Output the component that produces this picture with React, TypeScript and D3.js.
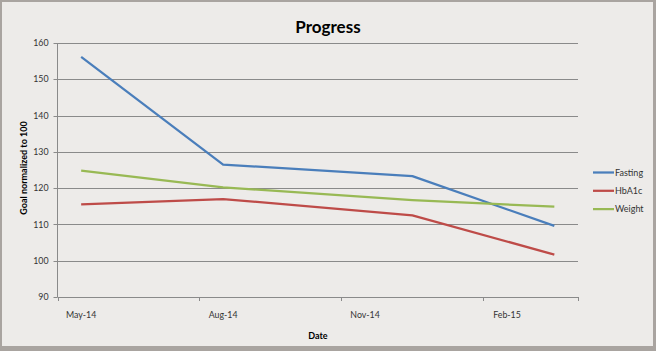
import React from "react";
import * as d3 from "d3";

const months = ["May-14","Jun-14","Jul-14","Aug-14","Sep-14","Oct-14","Nov-14","Dec-14","Jan-15","Feb-15","Mar-15"];
const tickLabels = ["May-14","Aug-14","Nov-14","Feb-15"];
const pointMonths = ["May-14","Aug-14","Dec-14","Mar-15"];
const fasting = [156.2, 126.5, 123.3, 109.6];
const hba1c = [115.5, 117.0, 112.5, 101.7];
const weight = [124.8, 120.2, 116.7, 114.9];
const yTicks = [90, 100, 110, 120, 130, 140, 150, 160];
const seriesNames = ["Fasting", "HbA1c", "Weight"];
const seriesColors = ["#4A7EBB", "#BE4B48", "#98B954"];

const FONT = "Lato, 'Open Sans', sans-serif";

export default function App() {
  const W = 656, H = 351;
  const left = 57.5, right = 578, top = 43, bottom = 297;
  const x = d3.scaleBand().domain(months).range([left, right]).paddingInner(0).paddingOuter(0);
  const y = d3.scaleLinear().domain([90, 160]).range([bottom, top]);
  const series = [fasting, hba1c, weight];
  const line = d3.line<number>()
    .x((_, i) => (x(pointMonths[i]) as number) + x.bandwidth() / 2)
    .y((v) => y(v));
  const quarterEdges = [0, 3, 6, 9].map((i) => left + i * x.bandwidth());
  quarterEdges.push(right);

  return (
    <svg width={W} height={H} style={{ position: "absolute", left: 0, top: 0 }} xmlns="http://www.w3.org/2000/svg">
      <rect x={0} y={0} width={W} height={H} fill="#A9A4A0" />
      <rect x={2} y={2} width={651} height={344} fill="#EDEBE9" />
      <text x={328} y={33} textAnchor="middle" fontFamily={FONT} fontWeight="bold" fontSize={17} fill="#000">Progress</text>
      {yTicks.map((t) => (
        <g key={t}>
          {t !== 90 && <line x1={left} x2={right} y1={Math.round(y(t)) + 0.5} y2={Math.round(y(t)) + 0.5} stroke="#8A8A8A" strokeWidth={1} />}
          <line x1={left - 4} x2={left} y1={Math.round(y(t)) + 0.5} y2={Math.round(y(t)) + 0.5} stroke="#8A8A8A" strokeWidth={1} />
          <text x={48.5} y={y(t) + 3.2} textAnchor="end" fontFamily={FONT} fontSize={8.8} fill="#333">{t}</text>
        </g>
      ))}
      <line x1={left} x2={left} y1={top} y2={bottom} stroke="#8A8A8A" strokeWidth={1} />
      <line x1={left} x2={right} y1={Math.round(bottom) + 0.5} y2={Math.round(bottom) + 0.5} stroke="#8A8A8A" strokeWidth={1} />
      {quarterEdges.map((e, i) => (
        <line key={i} x1={Math.round(e) + 0.5} x2={Math.round(e) + 0.5} y1={bottom} y2={bottom + 4} stroke="#8A8A8A" strokeWidth={1} />
      ))}
      {tickLabels.map((m) => (
        <text key={m} x={(x(m) as number) + x.bandwidth() / 2} y={318} textAnchor="middle" fontFamily={FONT} fontSize={8.8} fill="#333">{m}</text>
      ))}
      <text x={318} y={339} textAnchor="middle" fontFamily={FONT} fontWeight="bold" fontSize={9} fill="#000">Date</text>
      <text transform={`translate(26.5,168) rotate(-90)`} textAnchor="middle" fontFamily={FONT} fontWeight="bold" fontSize={9} fill="#000">Goal normalized to 100</text>
      {series.map((s, i) => (
        <path key={i} d={line(s) as string} fill="none" stroke={seriesColors[i]} strokeWidth={2.25} strokeLinejoin="round" />
      ))}
      {seriesNames.map((n, i) => {
        const ly = 172.5 + i * 18.3;
        return (
          <g key={n}>
            <line x1={593} x2={614} y1={ly} y2={ly} stroke={seriesColors[i]} strokeWidth={2.25} />
            <text x={615} y={ly + 3.2} fontFamily={FONT} fontSize={9} fill="#333">{n}</text>
          </g>
        );
      })}
    </svg>
  );
}
